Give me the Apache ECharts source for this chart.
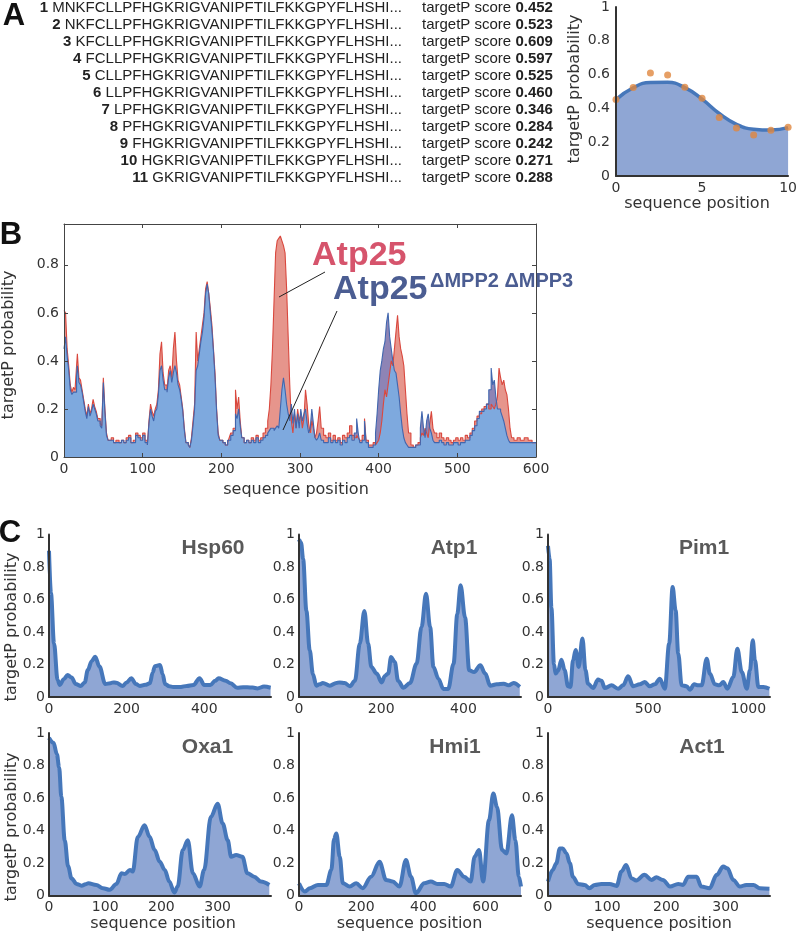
<!DOCTYPE html>
<html><head><meta charset="utf-8">
<script src="https://cdn.jsdelivr.net/npm/echarts@6/dist/echarts.min.js"></script>
<style>html,body{margin:0;padding:0;background:#fff}#c{width:800px;height:935px}</style>
</head><body><div id="c"></div>
<script>
// ---------- Panel A data ----------
const fullSeq = 'MNKFCLLPFHGKRIGVANIPFTILFKKGPYFLHSHI';
const seqNumbers = [1,2,3,4,5,6,7,8,9,10,11];
const scoreLabels = ['0.452','0.523','0.609','0.597','0.525','0.460','0.346','0.284','0.242','0.271','0.288'];
const scorePos = [0,1,2,3,4,5,6,7,8,9,10];
const scoreVal = [0.452,0.523,0.609,0.597,0.525,0.460,0.346,0.284,0.242,0.271,0.288];
const fitPos = [0,1,2,3,4,5,6,7,8,9,10];
const fitVal = [0.452,0.522,0.553,0.554,0.523,0.455,0.370,0.306,0.277,0.272,0.286];
const aXTicks = [0,5,10];
const aYTicks = [0,0.2,0.4,0.6,0.8,1];

// ---------- Panel B data (shared residue positions) ----------
const bPos = [0,2,4,6,8,10,12,14,16,17,19,21,23,25,27,29,31,33,35,37,39,41,43,46,48,50,52,54,56,60,63,66,70,73,76,79,82,85,88,91,94,97,100,103,106,108,110,112,114,116,118,120,122,124,126,128,131,133,135,137,139,141,143,145,147,149,151,153,155,158,160,162,164,166,168,170,172,174,176,178,180,182,184,186,188,190,192,194,196,198,202,205,208,210,212,215,218,220,222,224,226,229,232,235,238,241,244,247,250,253,256,259,261,263,265,267,269,271,273,275,277,279,281,283,285,287,289,291,293,295,297,299,301,303,305,307,309,311,313,315,317,319,321,323,325,327,330,333,336,339,342,345,348,351,354,357,360,363,366,369,372,374,376,379,382,384,387,390,393,396,398,400,402,404,406,408,410,412,414,416,418,420,422,424,426,428,430,432,434,436,438,441,444,447,450,453,455,457,459,461,463,465,467,469,471,474,477,480,483,486,489,492,495,498,501,504,507,510,513,516,519,522,525,528,531,534,537,540,543,545,547,549,551,553,555,557,559,561,563,565,567,569,572,576,580,585,590,595,600];
const atp25 = [0.61,0.60,0.45,0.38,0.30,0.27,0.29,0.28,0.38,0.43,0.33,0.32,0.28,0.24,0.20,0.17,0.22,0.18,0.20,0.24,0.21,0.19,0.16,0.14,0.13,0.33,0.20,0.10,0.07,0.08,0.06,0.07,0.06,0.07,0.06,0.08,0.09,0.06,0.07,0.10,0.09,0.08,0.10,0.07,0.05,0.15,0.22,0.19,0.17,0.20,0.22,0.28,0.43,0.48,0.35,0.30,0.28,0.36,0.38,0.33,0.45,0.52,0.40,0.32,0.30,0.25,0.20,0.12,0.06,0.05,0.04,0.08,0.15,0.22,0.52,0.40,0.45,0.50,0.55,0.60,0.70,0.73,0.68,0.62,0.55,0.45,0.35,0.20,0.10,0.07,0.06,0.05,0.06,0.08,0.10,0.12,0.28,0.20,0.25,0.15,0.08,0.06,0.07,0.06,0.08,0.07,0.09,0.07,0.08,0.10,0.12,0.15,0.20,0.30,0.45,0.65,0.85,0.90,0.91,0.92,0.90,0.88,0.85,0.70,0.50,0.30,0.15,0.10,0.18,0.12,0.20,0.15,0.18,0.12,0.16,0.28,0.22,0.14,0.10,0.15,0.12,0.08,0.10,0.15,0.21,0.12,0.09,0.08,0.10,0.07,0.09,0.07,0.08,0.06,0.09,0.08,0.10,0.13,0.09,0.08,0.09,0.08,0.07,0.09,0.16,0.07,0.05,0.05,0.06,0.05,0.06,0.07,0.10,0.15,0.22,0.28,0.25,0.30,0.35,0.40,0.38,0.45,0.52,0.59,0.50,0.45,0.42,0.38,0.28,0.18,0.10,0.05,0.04,0.05,0.06,0.08,0.10,0.09,0.12,0.10,0.08,0.14,0.19,0.12,0.10,0.08,0.10,0.08,0.07,0.08,0.07,0.06,0.07,0.08,0.07,0.08,0.07,0.09,0.08,0.10,0.12,0.15,0.17,0.18,0.20,0.21,0.22,0.20,0.22,0.21,0.20,0.22,0.25,0.37,0.33,0.30,0.32,0.28,0.26,0.20,0.12,0.08,0.07,0.08,0.07,0.08,0.07,0.06,0.06];
const atp25mpp = [0.45,0.50,0.42,0.36,0.28,0.26,0.27,0.27,0.34,0.38,0.31,0.30,0.27,0.23,0.19,0.16,0.21,0.17,0.19,0.22,0.20,0.18,0.15,0.13,0.12,0.31,0.19,0.09,0.07,0.07,0.06,0.06,0.06,0.07,0.06,0.07,0.08,0.06,0.06,0.09,0.08,0.07,0.09,0.06,0.05,0.14,0.20,0.17,0.15,0.19,0.20,0.26,0.36,0.38,0.32,0.28,0.27,0.33,0.36,0.31,0.35,0.38,0.35,0.30,0.28,0.24,0.19,0.11,0.06,0.05,0.04,0.07,0.13,0.20,0.36,0.38,0.43,0.48,0.52,0.58,0.68,0.72,0.68,0.60,0.53,0.44,0.33,0.19,0.09,0.07,0.06,0.05,0.07,0.07,0.09,0.11,0.18,0.16,0.20,0.13,0.08,0.06,0.07,0.06,0.07,0.06,0.08,0.06,0.07,0.08,0.09,0.10,0.11,0.12,0.12,0.11,0.12,0.13,0.12,0.20,0.28,0.33,0.28,0.22,0.18,0.15,0.22,0.14,0.20,0.12,0.18,0.12,0.20,0.15,0.18,0.20,0.14,0.10,0.12,0.20,0.14,0.08,0.07,0.08,0.10,0.07,0.06,0.06,0.08,0.06,0.07,0.06,0.07,0.05,0.07,0.06,0.08,0.09,0.07,0.10,0.16,0.10,0.06,0.07,0.15,0.06,0.04,0.04,0.05,0.10,0.18,0.28,0.36,0.40,0.45,0.48,0.56,0.60,0.50,0.45,0.40,0.36,0.35,0.30,0.25,0.18,0.12,0.08,0.06,0.05,0.04,0.04,0.04,0.05,0.05,0.12,0.19,0.12,0.08,0.15,0.18,0.12,0.10,0.07,0.06,0.06,0.07,0.06,0.05,0.06,0.05,0.05,0.06,0.06,0.05,0.06,0.06,0.07,0.07,0.09,0.11,0.13,0.16,0.19,0.19,0.20,0.22,0.28,0.37,0.30,0.32,0.25,0.20,0.20,0.19,0.17,0.15,0.12,0.09,0.07,0.06,0.06,0.06,0.06,0.06,0.06,0.06,0.06,0.06];
const bXTicks = [0,100,200,300,400,500,600];
const bYTicks = [0,0.2,0.4,0.6,0.8];

// ---------- Panel C data ----------
const cNames = ['Hsp60','Atp1','Pim1','Oxa1','Hmi1','Act1'];
const cLengths = [572,540,1108,395,714,375];
const cXTicks = [[0,200,400],[0,200,400],[0,500,1000],[0,100,200,300],[0,200,400,600],[0,100,200,300]];
const cYTicks = [0,0.2,0.4,0.6,0.8,1];
const hsp60Pos = [0,5,13,22,28,38,48,58,69,82,92,100,110,119,130,145,158,165,173,190,200,212,224,234,248,260,267,273,286,293,299,310,320,340,355,372,388,400,416,428,437,455,468,485,500,511,525,537,554,571];
const hsp60Val = [0.90,0.64,0.33,0.105,0.074,0.11,0.135,0.12,0.08,0.068,0.09,0.166,0.22,0.248,0.187,0.08,0.085,0.09,0.088,0.068,0.09,0.115,0.08,0.068,0.075,0.084,0.15,0.19,0.197,0.14,0.08,0.066,0.062,0.062,0.068,0.074,0.115,0.074,0.074,0.10,0.115,0.10,0.084,0.057,0.06,0.06,0.058,0.053,0.064,0.057];
const atp1Pos = [0,5,10,18,26,34,42,50,58,75,91,99,111,124,136,148,159,168,176,189,201,209,217,224,233,241,254,270,286,298,309,319,327,339,351,363,376,385,393,404,414,426,441,453,465,481,498,510,522,537];
const atp1Val = [0.97,0.95,0.85,0.53,0.29,0.14,0.07,0.078,0.086,0.07,0.086,0.09,0.086,0.066,0.10,0.33,0.53,0.33,0.185,0.144,0.09,0.13,0.144,0.246,0.215,0.10,0.057,0.086,0.205,0.43,0.636,0.43,0.185,0.113,0.05,0.05,0.205,0.51,0.687,0.49,0.164,0.154,0.195,0.144,0.07,0.078,0.082,0.072,0.086,0.062];
const pim1Pos = [0,8,17,30,38,50,67,83,100,112,125,138,153,172,187,200,225,250,267,283,317,350,375,400,425,458,483,508,533,558,583,605,622,637,650,667,692,708,730,750,767,792,808,833,855,875,895,925,945,967,992,1008,1022,1033,1050,1075,1105];
const pim1Val = [0.93,0.85,0.55,0.20,0.144,0.16,0.23,0.164,0.066,0.062,0.226,0.29,0.185,0.36,0.164,0.082,0.055,0.107,0.10,0.055,0.072,0.051,0.072,0.127,0.066,0.078,0.092,0.066,0.078,0.113,0.051,0.33,0.677,0.533,0.267,0.072,0.066,0.045,0.078,0.072,0.072,0.236,0.144,0.078,0.072,0.092,0.051,0.123,0.297,0.154,0.051,0.164,0.349,0.226,0.062,0.062,0.051];
const oxa1Pos = [0,8,14,18,22,28,34,40,49,58,65,70,84,96,108,120,129,135,144,149,158,170,179,188,197,206,214,223,229,238,247,256,268,276,288,300,309,318,324,333,344,353,365,377,392];
const oxa1Val = [0.97,0.94,0.87,0.79,0.606,0.34,0.18,0.106,0.071,0.06,0.07,0.075,0.065,0.045,0.035,0.071,0.137,0.133,0.157,0.147,0.36,0.433,0.361,0.28,0.208,0.157,0.086,0.018,0.055,0.28,0.34,0.137,0.055,0.157,0.484,0.565,0.443,0.34,0.239,0.249,0.239,0.137,0.116,0.086,0.065];
const hmi1Pos = [0,19,35,61,88,104,113,120,131,141,163,184,205,232,259,280,301,323,344,360,376,403,424,445,467,488,509,531,552,565,579,592,611,625,637,653,667,685,696,707,714];
const hmi1Val = [0.075,0.024,0.045,0.065,0.065,0.157,0.35,0.382,0.239,0.075,0.055,0.075,0.045,0.116,0.208,0.096,0.086,0.055,0.218,0.116,0.014,0.075,0.086,0.071,0.071,0.055,0.157,0.116,0.086,0.239,0.28,0.086,0.463,0.627,0.545,0.28,0.259,0.494,0.34,0.116,0.055];
const act1Pos = [0,8,14,20,25,31,37,42,51,62,70,79,90,104,116,124,132,141,149,163,175,183,194,206,220,228,237,251,259,273,285,296,303,313,324,335,347,358,374];
const act1Val = [0.086,0.157,0.198,0.29,0.29,0.26,0.198,0.116,0.071,0.065,0.045,0.065,0.071,0.071,0.059,0.147,0.188,0.106,0.092,0.127,0.096,0.112,0.096,0.055,0.071,0.065,0.116,0.116,0.055,0.045,0.127,0.178,0.167,0.096,0.055,0.065,0.065,0.045,0.041];
const cPos = [hsp60Pos,atp1Pos,pim1Pos,oxa1Pos,hmi1Pos,act1Pos];
const cVal = [hsp60Val,atp1Val,pim1Val,oxa1Val,hmi1Val,act1Val];

// ---------- styling ----------
const AX = '#333';
const FONT = 'DejaVu Sans';
const SANS = 'Liberation Sans';
const FILL = '#8fa6d4';
const LINE = '#4677ba';
const lbl = {color:'#333', fontFamily:FONT, fontSize:14};
const pair = (p,v) => p.map((x,i)=>[x,v[i]]);
const tickFmt = ticks => (v => ticks.some(t=>Math.abs(t-v)<1e-9) ? String(+v.toFixed(3)) : '');

const grids = [], xAxes = [], yAxes = [], series = [], graphics = [];

// Panel A plot
grids.push({left:616, top:7, width:175, height:169});
xAxes.push({gridIndex:0, type:'value', min:aXTicks[0], max:aXTicks[aXTicks.length-1], interval:aXTicks[1]-aXTicks[0], z:10,
  axisLine:{show:true,onZero:false,lineStyle:{color:AX,width:2}}, axisTick:{show:false}, splitLine:{show:false},
  axisLabel:Object.assign({margin:5},lbl)});
yAxes.push({gridIndex:0, type:'value', min:aYTicks[0], max:aYTicks[aYTicks.length-1], interval:aYTicks[1]-aYTicks[0], z:10,
  axisLine:{show:true,onZero:false,lineStyle:{color:AX,width:2}}, axisTick:{show:false}, splitLine:{show:false},
  axisLabel:Object.assign({margin:6},lbl)});
series.push({type:'line', xAxisIndex:0, yAxisIndex:0, data:pair(fitPos,fitVal), smooth:true, symbol:'none',
  lineStyle:{color:LINE,width:3.5}, areaStyle:{color:FILL,opacity:1}});
series.push({type:'scatter', xAxisIndex:0, yAxisIndex:0, data:pair(scorePos,scoreVal), symbolSize:7,
  itemStyle:{color:'#e0873e'}, z:5});

// Panel B
grids.push({left:64, top:224, width:472, height:233});
const bx = {gridIndex:1, type:'value', min:bXTicks[0], max:bXTicks[bXTicks.length-1], interval:bXTicks[1]-bXTicks[0], z:10,
  axisLine:{show:true,onZero:false,lineStyle:{color:'#444',width:1}}, axisTick:{show:true,inside:true,length:4,lineStyle:{color:'#444'}},
  splitLine:{show:false}, axisLabel:Object.assign({margin:5},lbl)};
xAxes.push(Object.assign({}, bx, {position:'bottom'}));
xAxes.push(Object.assign({}, bx, {position:'top', axisLabel:{show:false}}));
const by = {gridIndex:1, type:'value', min:0, max:0.97, interval:bYTicks[1]-bYTicks[0], z:10,
  axisLine:{show:true,onZero:false,lineStyle:{color:'#444',width:1}}, axisTick:{show:true,inside:true,length:4,lineStyle:{color:'#444'}},
  splitLine:{show:false}, axisLabel:Object.assign({margin:5, showMaxLabel:false, formatter:tickFmt(bYTicks)},lbl)};
yAxes.push(Object.assign({}, by, {position:'left'}));
yAxes.push(Object.assign({}, by, {position:'right', axisLabel:{show:false}}));
const bMin = atp25.map((v,i)=>Math.min(v, atp25mpp[i]));
const bArea = (vals,color) => ({type:'line', xAxisIndex:1, yAxisIndex:1, data:pair(bPos,vals), step:'end', symbol:'none',
  lineStyle:{width:0}, areaStyle:{color,opacity:1}});
series.push(bArea(atp25mpp,'#8e84b5'));
series.push(bArea(atp25,'#e6958c'));
series.push(bArea(bMin,'#7ea9de'));
series.push({type:'line', xAxisIndex:1, yAxisIndex:1, data:pair(bPos,atp25), step:'end', symbol:'none', lineStyle:{color:'#d9483e',width:1.1}});
series.push({type:'line', xAxisIndex:1, yAxisIndex:1, data:pair(bPos,atp25mpp), step:'end', symbol:'none', lineStyle:{color:'#4066ae',width:1.1}});

// Panel C
const cLeft = [49,299,548], cTop = [534.5,733], cW = 222, cH = 162.5;
const titleX = [[213,454,704],[207.5,455,702]];
for (let k=0;k<6;k++){
  const r = Math.floor(k/3), c = k%3, gi = grids.length, xi = xAxes.length, yi = yAxes.length;
  grids.push({left:cLeft[c], top:cTop[r], width:cW, height:cH});
  const xt = cXTicks[k];
  xAxes.push({gridIndex:gi, type:'value', min:0, max:cLengths[k], interval:xt[1]-xt[0], z:10,
    axisLine:{show:true,onZero:false,lineStyle:{color:AX,width:2}}, axisTick:{show:false}, splitLine:{show:false},
    axisLabel:Object.assign({margin:5, showMaxLabel:false, formatter:tickFmt(xt)},lbl)});
  yAxes.push({gridIndex:gi, type:'value', min:0, max:1, interval:cYTicks[1]-cYTicks[0], z:10,
    axisLine:{show:true,onZero:false,lineStyle:{color:AX,width:2}}, axisTick:{show:false}, splitLine:{show:false},
    axisLabel:Object.assign({margin:4},lbl)});
  series.push({type:'line', xAxisIndex:xi, yAxisIndex:yi, data:pair(cPos[k],cVal[k]), smooth:0.35, smoothMonotone:'x', symbol:'none',
    lineStyle:{color:LINE,width:4}, areaStyle:{color:FILL,opacity:1}});
  graphics.push({type:'text', z:100, x:titleX[r][c], y: cTop[r]+14,
    style:{text:cNames[k], fontFamily:SANS, fontWeight:'bold', fontSize:21, fill:'#595959', align:'center', verticalAlign:'middle'}});
}

// ---------- text graphics ----------
const T = (x,y,text,style,rot) => ({type:'text', z:100, x, y, rotation:rot||0,
  style:Object.assign({text, fontFamily:FONT, fontSize:16, fill:'#333', align:'center', verticalAlign:'middle'}, style||{})});
graphics.push(T(14,16,'A',{fontFamily:SANS,fontWeight:'bold',fontSize:31,fill:'#111'}));
graphics.push(T(11,235,'B',{fontFamily:SANS,fontWeight:'bold',fontSize:31,fill:'#111'}));
graphics.push(T(10,533,'C',{fontFamily:SANS,fontWeight:'bold',fontSize:31,fill:'#111'}));
seqNumbers.forEach((n,i)=>{
  const y = 8 + 17*i;
  graphics.push(T(402,y,'{n|'+n+'} '+fullSeq.slice(i)+'...',{fontFamily:SANS,fontSize:15,fill:'#222',align:'right',
    rich:{n:{fontFamily:SANS,fontSize:15,fontWeight:'bold',fill:'#222'}}}));
  graphics.push(T(422,y,'targetP score {b|'+scoreLabels[i]+'}',{fontFamily:SANS,fontSize:15,fill:'#222',align:'left',
    rich:{b:{fontFamily:SANS,fontSize:15,fontWeight:'bold',fill:'#222'}}}));
});
// axis names
graphics.push(T(575,89,'targetP probability',{},Math.PI/2));
graphics.push(T(697,204,'sequence position'));
graphics.push(T(9,345,'targetP probability',{},Math.PI/2));
graphics.push(T(296,490,'sequence position'));
graphics.push(T(12,627,'targetP probability',{},Math.PI/2));
graphics.push(T(12,827,'targetP probability',{},Math.PI/2));
[163,409.5,659].forEach(x=>graphics.push(T(x,924,'sequence position')));
// Panel B annotations
graphics.push(T(312,256,'Atp25',{fontFamily:SANS,fontWeight:'bold',fontSize:34,fill:'#d6546c',align:'left'}));
graphics.push(T(333,290,'Atp25',{fontFamily:SANS,fontWeight:'bold',fontSize:34,fill:'#4b5d92',align:'left'}));
graphics.push(T(430,281,'\u0394MPP2 \u0394MPP3',{fontFamily:SANS,fontWeight:'bold',fontSize:20,fill:'#4b5d92',align:'left'}));
graphics.push({type:'line', z:100, shape:{x1:279,y1:297,x2:325,y2:272}, style:{stroke:'#222',lineWidth:1}});
graphics.push({type:'line', z:100, shape:{x1:283,y1:430,x2:337,y2:311}, style:{stroke:'#222',lineWidth:1}});

const chart = echarts.init(document.getElementById('c'));
chart.setOption({animation:false, backgroundColor:'#fff', grid:grids, xAxis:xAxes, yAxis:yAxes, series, graphic:{elements:graphics}});
</script></body></html>
